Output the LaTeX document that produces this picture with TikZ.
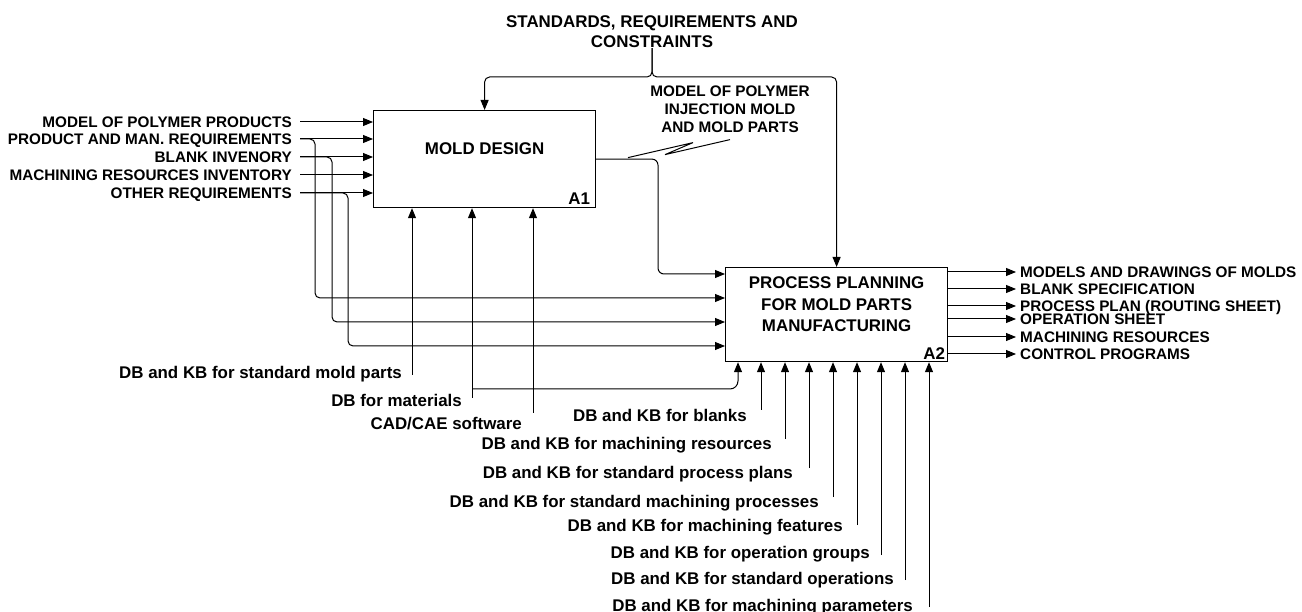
\documentclass[tikz,border=0pt]{standalone}
\usepackage{fontspec}
\setmainfont{Liberation Sans}
\usetikzlibrary{arrows.meta,positioning}
\newcommand{\capfont}{\fontsize{16.9}{21.5}\selectfont\bfseries}
\newcommand{\lowfont}{\fontsize{15.3}{18}\selectfont\bfseries}
\tikzset{
  flow/.style={draw, line width=1pt, -{Triangle[length=10pt,width=8pt]}},
  wire/.style={draw, line width=1pt},
  func/.style={draw, line width=1.2pt, inner sep=0pt, anchor=north west},
  txtbig/.style={font=\capfont, inner sep=0pt, text height=12.1pt, text depth=0pt},
  txtsmall/.style={font=\lowfont, inner sep=0pt, text height=11pt, text depth=0pt},
  txtblock/.style={font=\capfont, inner sep=0pt, align=center},
}
\begin{document}
\begin{tikzpicture}[x=1pt,y=-1pt]
    \useasboundingbox (0,0) rectangle (1302,612);
    \node[func, minimum width=222pt, minimum height=97pt] (A1) at (373,110) {};
    \node[func, minimum width=222pt, minimum height=94pt] (A2) at (725,267) {};
    \node[txtbig] at ([yshift=-38pt]A1.north) {MOLD DESIGN};
    \node[txtbig] at ([shift={(-17pt,10pt)}]A1.south east) {A1};
    \node[txtblock] at ([yshift=-37.5pt]A2.north) {PROCESS PLANNING\\FOR MOLD PARTS\\MANUFACTURING};
    \node[txtbig] at ([shift={(-14pt,9pt)}]A2.south east) {A2};
    % controls
    \node[txtblock, font=\fontsize{16.9}{20}\selectfont\bfseries] (std) at (652,32) {STANDARDS, REQUIREMENTS AND\\CONSTRAINTS};
    \coordinate (bus) at ([yshift=33pt]A1.north);
    \draw[flow, rounded corners=5pt] (std.south) |- (bus) -- (A1.north);
    \draw[flow, rounded corners=5pt] (std.south) |- (bus -| A2.north) -- (A2.north);
    % inputs of A1
    \foreach \n/\y/\t in {1/122/MODEL OF POLYMER PRODUCTS, 2/139/PRODUCT AND MAN. REQUIREMENTS, 3/157/BLANK INVENORY, 4/175/MACHINING RESOURCES INVENTORY, 5/193/OTHER REQUIREMENTS}{
        \node[txtsmall, anchor=east] (in\n) at (292,\y) {\t};
        \draw[flow] ([xshift=8pt]in\n.east) -- (in\n.east -| A1.west);
    }
    % inputs of A2
    \coordinate (A2in1) at ([yshift=-7pt]A2.north west);
    \coordinate (A2in2) at ([yshift=-31pt]A2.north west);
    \coordinate (A2in3) at ([yshift=-55pt]A2.north west);
    \coordinate (A2in4) at ([yshift=-79pt]A2.north west);
    \draw[flow, rounded corners=6pt] (A1.east) -| ([xshift=-67pt]A2in1) -- (A2in1);
    \draw[flow, rounded corners=5pt] ([xshift=8pt]in2.east) -| ([xshift=23pt]in2.east |- A2in2) -- (A2in2);
    \draw[flow, rounded corners=5pt] ([xshift=8pt]in3.east) -| ([xshift=40pt]in3.east |- A2in3) -- (A2in3);
    \draw[flow, rounded corners=5pt] ([xshift=8pt]in5.east) -| ([xshift=56pt]in5.east |- A2in4) -- (A2in4);
    \node[txtsmall, align=center, text height=, text depth=] (mdl) at (730,109) {MODEL OF POLYMER\\INJECTION MOLD\\AND MOLD PARTS};
    \draw[wire] ([yshift=-7pt]mdl.south) -- ++(-65,15) -- ++(28,-12) -- ++(-65,15);
    % mechanisms of A1
    \node[txtbig, anchor=east] (smp) at (402,372) {DB and KB for standard mold parts};
    \node[txtbig, anchor=east] (mat) at (462,400) {DB for materials};
    \node[txtbig, anchor=east] (cad) at (522,423) {CAD/CAE software};
    \draw[flow] ([shift={(10pt,-3pt)}]smp.east) -- ([xshift=10pt]smp.east |- A1.south);
    \draw[flow] ([shift={(10pt,2pt)}]mat.east) -- ([xshift=10pt]mat.east |- A1.south);
    \draw[flow] ([shift={(11pt,10pt)}]cad.east) -- ([xshift=11pt]cad.east |- A1.south);
    \draw[flow, rounded corners=8pt] ([shift={(10pt,11pt)}]mat.east) -| ([xshift=13pt]A2.south west);
    % mechanisms of A2
    \foreach \n/\y/\e/\r/\t in {1/415/410/747/blanks, 2/443/439/772/machining resources, 3/472/468/793/standard process plans, 4/501/497/819/standard machining processes, 5/525/525/843/machining features, 6/552/555/870/operation groups, 7/578/580/894/standard operations, 8/605/607/913/machining parameters}{
        \node[txtbig, anchor=east] (kb\n) at (\r,\y) {DB and KB for \t};
        \coordinate (kbe\n) at (737+24*\n,\e);
        \draw[flow] (kbe\n) -- (kbe\n |- A2.south);
    }
    % outputs of A2
    \foreach \n/\y/\t in {1/272/MODELS AND DRAWINGS OF MOLDS, 2/289/BLANK SPECIFICATION, 3/306/PROCESS PLAN (ROUTING SHEET), 4/319/OPERATION SHEET, 5/337/MACHINING RESOURCES, 6/354/CONTROL PROGRAMS}{
        \node[txtsmall, anchor=west] (out\n) at (1020,\y) {\t};
        \draw[flow] (out\n.west -| A2.east) -- ([xshift=-4pt]out\n.west);
    }
\end{tikzpicture}
\end{document}
